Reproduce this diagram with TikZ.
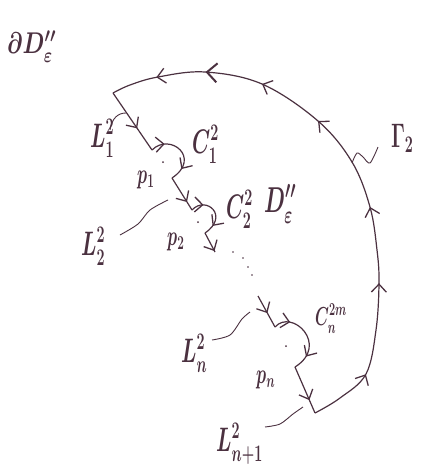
\RequirePackage{fix-cm}
\documentclass[tikz,border=0pt]{standalone}
\usepackage{graphicx}
\usetikzlibrary{arrows.meta,decorations.markings}
\definecolor{ink}{HTML}{4B3140}
\newcommand{\hw}[2][0.6]{\scalebox{#1}[1]{\boldmath$#2$}}
\tikzset{
  contour/.style={draw=ink, line width=1.2pt},
  lead/.style={draw=ink, line width=0.9pt},
  marr/.style={postaction={decorate,decoration={markings,
      mark=at position #1 with {\arrow[line width=1.3pt]{Straight Barb[length=8pt,width=15pt]}}}}},
  bigarr/.style={postaction={decorate,decoration={markings,
      mark=at position #1 with {\arrow[line width=2pt]{Straight Barb[length=10pt,width=19pt]}}}}},
  lab/.style={text=ink, inner sep=0pt, anchor=base west, font=\fontsize{34}{38}\selectfont},
  smalllab/.style={lab, font=\fontsize{26}{30}\selectfont},
  pdot/.style={fill=ink}
}
\begin{document}
\begin{tikzpicture}[x=1pt,y=-1pt]
\useasboundingbox (0,0) rectangle (433,466);
% path vertices
\coordinate (A) at (113,93);
\coordinate (B) at (152,150);
\coordinate (C) at (172,178);
\coordinate (D) at (192,210);
\coordinate (E) at (205,233);
\coordinate (F) at (215,252);
\coordinate (G) at (258,296);
\coordinate (H) at (275,327);
\coordinate (I) at (295,367);
\coordinate (J) at (315,413);
\coordinate (K) at (366,374);
% inner contour pieces
\draw[contour, marr=0.62] (A) -- (B);
\draw[contour, marr=0.22, marr=0.8] (B) .. controls (170,132) and (202,158) .. (C);
\draw[contour, marr=0.75] (C) -- (D);
\draw[contour, marr=0.25, marr=0.8] (D) .. controls (206,195) and (230,216) .. (E);
\draw[contour, marr=0.95] (E) -- (F);
\draw[contour, marr=0.55] (G) -- (H);
\draw[contour, marr=0.22, marr=0.8] (H) .. controls (292,308) and (330,345) .. (I);
\draw[contour, marr=0.72] (I) -- (J);
% outer arc Gamma
\draw[contour, marr=0.116, marr=0.282, marr=0.42, marr=0.603, marr=0.724, bigarr=0.828, marr=0.917]
  plot[smooth, tension=0.6] coordinates {(J) (340,398) (K) (376,330) (379,283) (377,250) (370,207) (352,162) (318,121) (262,84) (205,72) (158,77) (130,85) (A)};
% ellipsis dots
\foreach \p in {(233,252),(243,258),(248,267),(252,275)}
  \fill[pdot] \p circle (0.9pt);
% centre points
\fill[pdot] (163,162) circle (1pt);
\fill[pdot] (198,222) circle (1pt);
\fill[pdot] (286,346) circle (1pt);
% labels
\node[lab, font=\fontsize{30}{34}\selectfont] (dD) at (7,53) {\hw[0.75]{\partial D''_{\varepsilon}}};
\node[lab] (L1) at (90,147) {\hw{L^2_1}};
\node[lab] (C1) at (192,153) {\hw{C^2_1}};
\node[lab, font=\fontsize{28}{32}\selectfont] (p1) at (137,183) {\hw{p_1}};
\node[lab] (C2) at (226,218) {\hw{C^2_2}};
\node[lab, font=\fontsize{36}{40}\selectfont] (Din) at (264,212) {\hw{D''_{\varepsilon}}};
\node[lab, font=\fontsize{28}{32}\selectfont] (p2) at (167,245) {\hw{p_2}};
\node[lab] (L2) at (81,255) {\hw{L^2_2}};
\node[lab, font=\fontsize{34}{38}\selectfont] (G2) at (391,147) {\hw{\Gamma_2}};
\node[lab] (Ln) at (181,362) {\hw{L^2_n}};
\node[smalllab] (Cn) at (315,325) {\hw{C^{2m}_n}};
\node[lab, font=\fontsize{28}{32}\selectfont] (pn) at (256,383) {\hw{p_n}};
\node[lab] (Ln1) at (216,451) {\hw{L^2_{n+1}}};
% leaders
\coordinate (l1a) at (110,130); \coordinate (l1b) at (126,113);
\draw[lead] (l1a) .. controls (112,118) and (118,113) .. (l1b);
\coordinate (l2a) at (120,235); \coordinate (l2b) at (168,200);
\draw[lead] plot[smooth] coordinates {(l2a) (138,224) (150,210) (l2b)};
\coordinate (lna) at (212,340); \coordinate (lnb) at (250,312);
\draw[lead] plot[smooth] coordinates {(lna) (230,335) (242,319) (lnb)};
\coordinate (ln1a) at (265,427); \coordinate (ln1b) at (303,407);
\draw[lead] plot[smooth] coordinates {(ln1a) (280,424) (293,414) (ln1b)};
\coordinate (ga) at (352,163); \coordinate (gb) at (378,147);
\draw[lead] plot[smooth] coordinates {(ga) (357,153) (363,157) (370,163) (gb)};
\end{tikzpicture}
\end{document}
